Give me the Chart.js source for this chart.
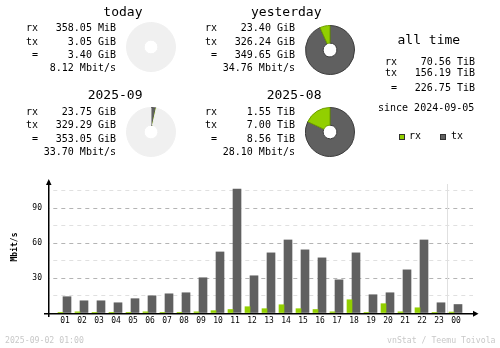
<!DOCTYPE html>
<html>
<head>
<meta charset="utf-8">
<script src="https://cdn.jsdelivr.net/npm/chart.js@4.4.1/dist/chart.umd.min.js"></script>
<style>
  html, body { margin: 0; padding: 0; background: #fff; }
  #wrap { position: relative; width: 500px; height: 348px; overflow: hidden;
          font-family: 'DejaVu Sans Mono', 'Liberation Mono', monospace; color: #000; }
  #wrap canvas { position: absolute; }
  .t { position: absolute; white-space: pre; font-size: 10px; line-height: 12px; height: 12px; }
  .h { font-size: 13px; line-height: 16px; height: 16px; }
  .f { font-size: 8.2px; line-height: 10px; height: 10px; color: #c8c8c8; }
  .sq { position: absolute; width: 6px; height: 6px; box-sizing: border-box; border: 1px solid #303030; }
</style>
</head>
<body>
<div id="wrap">
  <canvas id="bars" width="500" height="348" style="left:0;top:0"></canvas>
  <canvas id="pie0" width="50" height="50" style="left:126px;top:22px"></canvas>
  <canvas id="pie1" width="50" height="50" style="left:305px;top:25px"></canvas>
  <canvas id="pie2" width="50" height="50" style="left:126px;top:107px"></canvas>
  <canvas id="pie3" width="50" height="50" style="left:305px;top:107px"></canvas>
</div>
<script>
// ---- hourly traffic, last 24 hours (Mbit/s) ----
const hours  = ['01','02','03','04','05','06','07','08','09','10','11','12',
                '13','14','15','16','17','18','19','20','21','22','23','00'];
const txRate = [14.0, 10.5, 10.5, 8.8, 12.3, 14.8, 16.5, 17.4, 30.3, 52.5, 106.5, 32.0,
                51.7, 62.8, 54.3, 47.4, 28.5, 51.7, 15.7, 17.4, 37.1, 62.8, 8.8, 7.3];
const rxRate = [0.2, 1.0, 0.2, 0.2, 0.3, 1.0, 0.3, 0.3, 1.0, 2.0, 3.0, 5.4,
                3.7, 7.1, 3.7, 3.0, 1.0, 11.4, 0.3, 8.0, 1.0, 4.5, 0.3, 0.8];
const yTickLabels = [30, 60, 90];

// ---- period summaries ----
const periodTitles = ['today', 'yesterday', '2025-09', '2025-08'];
const periodRxText = ['358.05 MiB', '23.40 GiB', '23.75 GiB', '1.55 TiB'];
const periodTxText = ['3.05 GiB', '326.24 GiB', '329.29 GiB', '7.00 TiB'];
const periodTotalText = ['3.40 GiB', '349.65 GiB', '353.05 GiB', '8.56 TiB'];
const periodRateText = ['8.12 Mbit/s', '34.76 Mbit/s', '33.70 Mbit/s', '28.10 Mbit/s'];
// same traffic in GiB for the rings
const periodRxGiB = [0.35, 23.40, 23.75, 1587.2];
const periodTxGiB = [3.05, 326.24, 329.29, 7168.0];
// hours counted so far in the current month (2025-09-02 01:00)
const monthHoursDone = 25;
const monthHoursTotal = 720;

const allTimeRx = '70.56 TiB';
const allTimeTx = '156.19 TiB';
const allTimeTotal = '226.75 TiB';
const allTimeSince = '2024-09-05';

const stampText = '2025-09-02 01:00';
const creditText = 'vnStat / Teemu Toivola';

const RX = '#92cf00', TX = '#606060', EMPTY = '#f0f0f0';
const RX_EDGE = '#6e9c00', TX_EDGE = '#3c3c3c';

// ---- text ----
const wrap = document.getElementById('wrap');
function put(text, x, cy, cls, right) {
  const d = document.createElement('div');
  d.className = 't ' + (cls || '');
  d.textContent = text;
  const lh = cls === 'h' ? 16 : (cls === 'f' ? 10 : 12);
  d.style.top = (cy - lh / 2) + 'px';
  if (right) d.style.right = (500 - x) + 'px'; else d.style.left = x + 'px';
  wrap.appendChild(d);
}

const blockPos = [[0, 0], [179, 0], [0, 83.5], [179, 83.5]];
periodTitles.forEach((title, i) => {
  const [dx, dy] = blockPos[i];
  put(title, 142.5 + dx, 11.7 + dy, 'h', true);
  put('rx', 26 + dx, 28.3 + dy);
  put(periodRxText[i], 116 + dx, 28.3 + dy, '', true);
  put('tx', 26 + dx, 41.7 + dy);
  put('=', 32 + dx, 55 + dy);
  put(periodTxText[i], 116 + dx, 41.7 + dy, '', true);
  put(periodTotalText[i], 116 + dx, 55 + dy, '', true);
  put(periodRateText[i], 116 + dx, 68.3 + dy, '', true);
});

put('all time', 397.5, 39.5, 'h');
put('rx', 385, 62);
put(allTimeRx, 475, 62, '', true);
put('tx', 385, 73);
put(allTimeTx, 475, 73, '', true);
put('=', 391, 88);
put(allTimeTotal, 475, 88, '', true);
put('since ' + allTimeSince, 378, 108);

function square(x, y, color) {
  const s = document.createElement('div');
  s.className = 'sq';
  s.style.left = x + 'px'; s.style.top = y + 'px'; s.style.background = color;
  wrap.appendChild(s);
}
square(399, 133.5, RX); put('rx', 409, 136.3);
square(440, 133.5, TX); put('tx', 451, 136.3);

put(stampText, 5, 340, 'f');
put(creditText, 495.5, 340, 'f', true);

// ---- rings ----
const ringOpts = {
  responsive: false, animation: false, events: [],
  cutout: '28%', layout: { padding: 0 },
  plugins: { legend: { display: false }, tooltip: { enabled: false } }
};
function ring(id, data, fill, edge) {
  new Chart(document.getElementById(id), {
    type: 'doughnut',
    data: { datasets: [{ data, backgroundColor: fill, borderColor: edge, borderWidth: 1 }] },
    options: ringOpts
  });
}
// today: nothing complete yet, empty ring
ring('pie0', [1], [EMPTY], [EMPTY]);
// yesterday and last month: full rings
ring('pie1', [periodTxGiB[1], periodRxGiB[1]], [TX, RX], [TX_EDGE, RX_EDGE]);
ring('pie3', [periodTxGiB[3], periodRxGiB[3]], [TX, RX], [TX_EDGE, RX_EDGE]);
// current month: used share of the month so far
const monthSoFar = periodTxGiB[2] + periodRxGiB[2];
const monthRest = monthSoFar * (monthHoursTotal / monthHoursDone - 1);
ring('pie2', [periodTxGiB[2], periodRxGiB[2], monthRest], [TX, RX, EMPTY], [TX_EDGE, RX_EDGE, EMPTY]);

// ---- hourly bars ----
const PX_PER_HOUR = 17;
const FIRST_HOUR_PX = 63;      // left edge of the first tx bar
const AREA_LEFT = 48, AREA_RIGHT = 473;
const xMin = (AREA_LEFT - FIRST_HOUR_PX) / PX_PER_HOUR;
const xMax = xMin + (AREA_RIGHT - AREA_LEFT) / PX_PER_HOUR;

const axesPlugin = {
  id: 'axes',
  beforeDatasetsDraw(chart) {
    const { ctx, chartArea: a, scales: { x } } = chart;
    // day boundary between 23 and 00
    const k = hours.indexOf('00');
    const xb = Math.round((x.getPixelForValue(k - 1) + 8 + x.getPixelForValue(k) - 5) / 2);
    ctx.save();
    ctx.fillStyle = '#e0e0e0';
    ctx.fillRect(xb, a.top + 3, 1, a.bottom - a.top - 3);
    ctx.restore();
  },
  afterDatasetsDraw(chart) {
    const { ctx, chartArea: a } = chart;
    ctx.save();
    ctx.fillStyle = '#000';
    // y axis
    ctx.fillRect(a.left, a.top, 1.5, a.bottom - a.top + 4);
    ctx.beginPath();
    ctx.moveTo(a.left + 0.75, a.top - 2);
    ctx.lineTo(a.left + 3.5, a.top + 4);
    ctx.lineTo(a.left - 2, a.top + 4);
    ctx.closePath(); ctx.fill();
    // x axis
    ctx.fillRect(a.left - 4, a.bottom, a.right - a.left + 4, 1.5);
    ctx.beginPath();
    ctx.moveTo(a.right + 5.5, a.bottom + 0.75);
    ctx.lineTo(a.right, a.bottom - 2.2);
    ctx.lineTo(a.right, a.bottom + 3.7);
    ctx.closePath(); ctx.fill();
    ctx.restore();
  }
};

const tickFont = { family: "'DejaVu Sans Mono', monospace", size: 8 };

new Chart(document.getElementById('bars'), {
  type: 'bar',
  data: {
    datasets: [
      { label: 'rx', data: rxRate.map((v, i) => ({ x: i, y: v })), backgroundColor: RX, barThickness: 5, borderWidth: 0 },
      { label: 'tx', data: txRate.map((v, i) => ({ x: i, y: v })), backgroundColor: TX, barThickness: 8, borderWidth: 0 }
    ]
  },
  options: {
    responsive: false, animation: false, events: [],
    layout: { padding: { left: 0, right: 500 - AREA_RIGHT, top: 181, bottom: 15 } },
    plugins: { legend: { display: false }, tooltip: { enabled: false } },
    scales: {
      x: {
        type: 'linear', min: xMin, max: xMax, offset: false,
        afterBuildTicks: s => { s.ticks = hours.map((_, i) => ({ value: i })); },
        afterFit: s => { s.height = 20; },
        grid: { display: false, drawTicks: false },
        border: { display: false },
        ticks: { autoSkip: false, maxRotation: 0, labelOffset: 2, padding: 3,
                 color: '#000', font: tickFont, callback: v => hours[v] }
      },
      y: {
        min: 0, max: 113.5,
        afterFit: s => { s.width = AREA_LEFT; },
        grid: {
          drawTicks: false,
          color: c => c.tick.value === 0 ? 'rgba(0,0,0,0)' :
                      (c.tick.value % 30 === 0 ? '#b4b4b4' : '#e0e0e0')
        },
        border: { display: false, dash: [4, 4], dashOffset: 2.7 },
        title: { display: true, text: 'Mbit/s', color: '#000', padding: { top: 10, bottom: 0 },
                 align: 'center',
                 font: { family: "'DejaVu Sans Mono', monospace", size: 8, weight: 'bold' } },
        ticks: { stepSize: 15, includeBounds: false, padding: 6, color: '#000', font: tickFont,
                 callback: v => yTickLabels.includes(v) ? String(v) : '' }
      }
    }
  },
  plugins: [axesPlugin]
});
</script>
</body>
</html>
